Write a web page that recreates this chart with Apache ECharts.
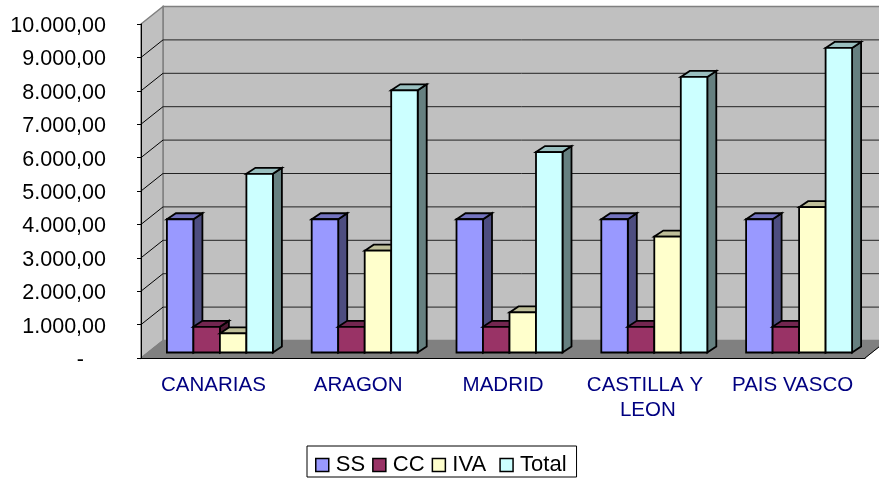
<!DOCTYPE html>
<html>
<head>
<meta charset="utf-8">
<style>
  html, body { margin: 0; padding: 0; background: #fff; overflow: hidden; }
  #chart { width: 879px; height: 479px; }
</style>
</head>
<body>
<div id="chart"></div>
<script src="https://cdn.jsdelivr.net/npm/echarts@6/dist/echarts.min.js"></script>
<script>
var categories = ["CANARIAS", "ARAGON", "MADRID", "CASTILLA Y LEON", "PAIS VASCO"];
var ss = [3990, 3990, 3990, 3990, 3990];
var cc = [770, 770, 770, 770, 770];
var iva = [570, 3050, 1200, 3470, 4350];
var total = [5350, 7850, 6000, 8250, 9120];
var yTicks = [0, 1000, 2000, 3000, 4000, 5000, 6000, 7000, 8000, 9000, 10000];

var font = "Liberation Sans";
var wallDepth = [22, -17.5];
var barShift = [6.5, -5.5];
var barDepth = [9, -6];
var barShare = 0.183;

// front, top and side colour of each bar
var colors = {
  SS: ["#9999FF", "#7373BF", "#4D4D80"],
  CC: ["#993366", "#732650", "#4D1A33"],
  IVA: ["#FFFFCC", "#BFBF99", "#808066"],
  Total: ["#CCFFFF", "#99BFBF", "#668080"]
};

function formatValue(v) {
  if (v === 0) return "{dash|-}";
  return v.toLocaleString("de-DE", { minimumFractionDigits: 2, maximumFractionDigits: 2 });
}

function poly(points, fill, stroke, width) {
  return {
    type: "polygon",
    shape: { points: points },
    style: { fill: fill, stroke: stroke, lineWidth: width }
  };
}

function line(a, b, stroke, width) {
  return {
    type: "line",
    shape: { x1: a[0], y1: a[1], x2: b[0], y2: b[1] },
    style: { stroke: stroke, lineWidth: width }
  };
}

function renderWalls(params, api) {
  var rect = params.coordSys;
  var dx = wallDepth[0], dy = wallDepth[1];
  var y = api.coord([0, api.value(1)])[1];
  var left = rect.x, right = rect.x + rect.width;
  var kids = [];
  if (params.dataIndex === 0) {
    var top = rect.y, bottom = rect.y + rect.height;
    kids.push(poly([[left + dx, top + dy], [right + dx, top + dy], [right + dx, bottom + dy], [left + dx, bottom + dy]], "#C0C0C0", "#808080", 1.5));
    kids.push(poly([[left, top], [left + dx, top + dy], [left + dx, bottom + dy], [left, bottom]], "#C0C0C0", "#808080", 1.5));
    kids.push(poly([[left, bottom], [left + dx, bottom + dy], [right + dx, bottom + dy], [right, bottom]], "#808080", "#808080", 1));
    kids.push(line([right, bottom], [right + dx, bottom + dy], "#000", 1));
  } else if (api.value(1) < 10000) {
    kids.push(line([left, y], [left + dx, y + dy], "#000", 1));
    kids.push(line([left + dx, y + dy], [right + dx, y + dy], "#222", 1));
  }
  return { type: "group", children: kids };
}

function renderBar(params, api) {
  var shades = colors[params.seriesName];
  var center = api.coord([api.value(0), 0]);
  var w = api.size([1, 0])[0] * barShare;
  var x0 = center[0] + barShift[0] + (params.seriesIndex - 3) * w;
  var x1 = x0 + w;
  var yBase = center[1] + barShift[1];
  var yTop = api.coord([api.value(0), api.value(1)])[1] + barShift[1];
  var dx = barDepth[0], dy = barDepth[1];
  return {
    type: "group",
    children: [
      poly([[x1, yBase], [x1 + dx, yBase + dy], [x1 + dx, yTop + dy], [x1, yTop]], shades[2], "#000", 1.8),
      poly([[x0, yTop], [x0 + dx, yTop + dy], [x1 + dx, yTop + dy], [x1, yTop]], shades[1], "#000", 1.8),
      poly([[x0, yBase], [x1, yBase], [x1, yTop], [x0, yTop]], shades[0], "#000", 1.8)
    ]
  };
}

function barSeries(name, values) {
  return {
    name: name,
    type: "custom",
    z: 3,
    renderItem: renderBar,
    encode: { x: 0, y: 1 },
    itemStyle: { color: colors[name][0] },
    data: values.map(function (v, i) { return [i, v]; })
  };
}

var chart = echarts.init(document.getElementById("chart"));
chart.setOption({
  animation: false,
  backgroundColor: "#fff",
  textStyle: { fontFamily: font },
  grid: { left: 141, right: 14, top: 24, bottom: 121 },
  legend: {
    left: 307,
    top: 446,
    padding: [8, 10, 1, 8],
    itemGap: 7,
    itemWidth: 13,
    itemHeight: 13,
    itemStyle: { borderColor: "#000", borderWidth: 1.5 },
    borderColor: "#000",
    borderWidth: 1,
    selectedMode: false,
    textStyle: { fontFamily: font, fontSize: 22, color: "#000", padding: [0, 0, 0, 2] },
    data: ["SS", "CC", "IVA", "Total"].map(function (n) { return { name: n, icon: "rect" }; }),
    formatter: function (name) { return name === "IVA" ? "IVA " : name; }
  },
  xAxis: {
    type: "category",
    data: categories,
    z: 5,
    axisLine: { lineStyle: { color: "#000", width: 1 } },
    axisTick: { length: 4, lineStyle: { color: "#000" } },
    axisLabel: {
      interval: 0,
      margin: 15,
      width: 140,
      overflow: "break",
      lineHeight: 25,
      fontFamily: font,
      fontSize: 20.5,
      color: "#000080"
    }
  },
  yAxis: {
    type: "value",
    min: 0,
    max: 10000,
    interval: 1000,
    z: 5,
    splitLine: { show: false },
    axisLine: { show: true, lineStyle: { color: "#000", width: 1 } },
    axisTick: { show: true, length: 4, lineStyle: { color: "#000" } },
    axisLabel: {
      margin: 35,
      padding: [4, 0, 0, 0],
      fontFamily: font,
      fontSize: 21.5,
      color: "#000",
      formatter: formatValue,
      rich: { dash: { fontFamily: font, fontSize: 21.5, color: "#000", padding: [0, 22, 0, 0] } }
    }
  },
  series: [
    {
      name: "walls",
      type: "custom",
      z: 1,
      renderItem: renderWalls,
      encode: { x: 0, y: 1 },
      data: yTicks.map(function (t) { return [0, t]; })
    },
    barSeries("SS", ss),
    barSeries("CC", cc),
    barSeries("IVA", iva),
    barSeries("Total", total)
  ]
});
</script>
</body>
</html>
